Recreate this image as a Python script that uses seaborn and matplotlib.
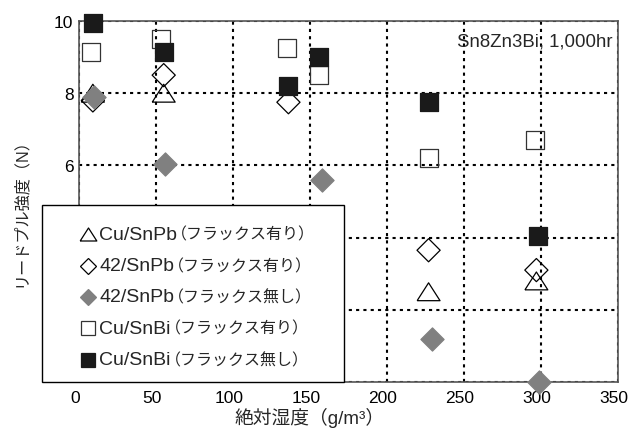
import numpy as np
import pandas as pd
import matplotlib
matplotlib.use("Agg")
import matplotlib.pyplot as plt
import matplotlib.transforms as mtransforms
import seaborn as sns
from matplotlib.ticker import MultipleLocator
from matplotlib.lines import Line2D
from matplotlib.patches import Rectangle
from matplotlib.offsetbox import HPacker, VPacker, TextArea, DrawingArea, AnchoredOffsetbox

# ---- data ----
tri_x = [9, 55, 227, 297]
tri_y = [8.0, 8.0, 2.5, 2.8]
odia_x = [9, 55, 136, 227, 297]
odia_y = [7.8, 8.5, 7.75, 3.65, 3.1]
gdia_x = [10, 56, 158, 229, 299]
gdia_y = [7.9, 6.05, 5.6, 1.2, 0.0]
osq_x = [8, 53, 135, 156, 227, 296]
osq_y = [9.15, 9.5, 9.25, 8.5, 6.2, 6.7]
bsq_x = [9, 55, 136, 156, 227, 298]
bsq_y = [9.95, 9.15, 8.2, 9.0, 7.75, 4.05]

label_latin = ["Cu/SnPb", "42/SnPb", "42/SnPb", "Cu/SnBi", "Cu/SnBi"]
label_jp = ["（フラックス有り）", "（フラックス有り）", "（フラックス無し）",
            "（フラックス有り）", "（フラックス無し）"]
xticks = [0, 50, 100, 150, 200, 250, 300, 350]
yticks = [0, 2, 4, 6, 8, 10]

sns.set_style("white")
plt.rcParams["font.family"] = ["Liberation Sans", "Noto Sans CJK JP", "DejaVu Sans"]

fig = plt.figure(figsize=(6.31, 4.35), dpi=100)
ax = fig.add_axes([79/631, 52/435, 539/631, 361/435])

tri_marker = [(-1, -0.78), (1, -0.78), (0, 0.78), (-1, -0.78)]

series = [
    (tri_x, tri_y, tri_marker, "none", "black", 272, 12.0),
    (odia_x, odia_y, "D", "none", "black", 139, 8.2),
    (gdia_x, gdia_y, "D", "#808080", "#808080", 139, 8.2),
    (osq_x, osq_y, "s", "none", "#333333", 169, 10.0),
    (bsq_x, bsq_y, "s", "#1a1a1a", "#1a1a1a", 169, 10.0),
]
for i, (xs, ys, mk, fc, ec, s, _) in enumerate(series):
    df = pd.DataFrame({"x": xs, "y": ys})
    sns.scatterplot(data=df, x="x", y="y", ax=ax, marker=mk, s=s,
                    facecolor=fc, edgecolor=ec, linewidth=0.9,
                    clip_on=False, zorder=3 + i * 0.1, legend=False)

ax.set_xlim(0, 350)
ax.set_ylim(0, 10)
ax.set_xticks(xticks)
ax.set_yticks(yticks)
ax.xaxis.set_minor_locator(MultipleLocator(10))
ax.yaxis.set_minor_locator(MultipleLocator(1))
ax.tick_params(which="both", direction="in", labelsize=12.5, colors="#444444",
               labelcolor="black")
ax.tick_params(which="major", length=5, width=1)
ax.tick_params(which="minor", length=3, width=1)
ax.tick_params(axis="x", pad=6)
ax.tick_params(axis="y", pad=4)
for sp in ax.spines.values():
    sp.set_color("#555555")
    sp.set_linewidth(1.2)

shift = mtransforms.ScaledTranslation(-4 / 100, 0, fig.dpi_scale_trans)
for lab in ax.get_xticklabels():
    lab.set_transform(lab.get_transform() + shift)
ax.get_yticklabels()[0].set_visible(False)

ax.grid(True, which="major", color="black", linestyle=(0, (1.5, 2)), linewidth=1.5)
ax.set_axisbelow(True)

ax.set_xlabel("絶対湿度（g/m³）", fontsize=13.5)
ax.xaxis.set_label_coords((310 - 79) / 539, (383 - 418) / 361)
ax.xaxis.label.set_verticalalignment("center")
ax.set_ylabel("リードプル強度（N）", fontsize=11.6)
ax.yaxis.set_label_coords((20 - 79) / 539, (383 - 209) / 361)
ax.yaxis.label.set_verticalalignment("center")

ax.text(0.989, 0.945, "Sn8Zn3Bi, 1,000hr", transform=ax.transAxes,
        ha="right", va="center", fontsize=13.4)

# legend frame
frame = Rectangle((-0.0686, 0.0), 0.5603, 0.49, transform=ax.transAxes,
                  facecolor="white", edgecolor="black", linewidth=1.0,
                  clip_on=False, zorder=6)
ax.add_patch(frame)

rows = []
for (xs, ys, mk, fc, ec, s, ms), lat, jp in zip(series, label_latin, label_jp):
    da = DrawingArea(14, 16, 0, 0)
    da.add_artist(Line2D([7], [8], linestyle="none", marker=mk, markersize=ms,
                         markerfacecolor=fc, markeredgecolor=ec, markeredgewidth=0.9))
    t1 = TextArea(lat, textprops=dict(fontsize=14, family=["Liberation Sans"]))
    t2 = TextArea(jp, textprops=dict(fontsize=11.5, family=["Noto Sans CJK JP"]))
    txt = HPacker(children=[t1, t2], align="baseline", pad=0, sep=-4.3)
    rows.append(HPacker(children=[da, txt], align="center", pad=0, sep=1.2))
box = VPacker(children=rows, align="left", pad=0, sep=6.6)
anch = AnchoredOffsetbox(loc="upper left", child=box, pad=0, borderpad=0,
                         frameon=False,
                         bbox_to_anchor=(78 / 631, 1 - 224 / 435),
                         bbox_transform=fig.transFigure)
anch.set_zorder(7)
ax.add_artist(anch)

fig.savefig("out.png", dpi=100)
